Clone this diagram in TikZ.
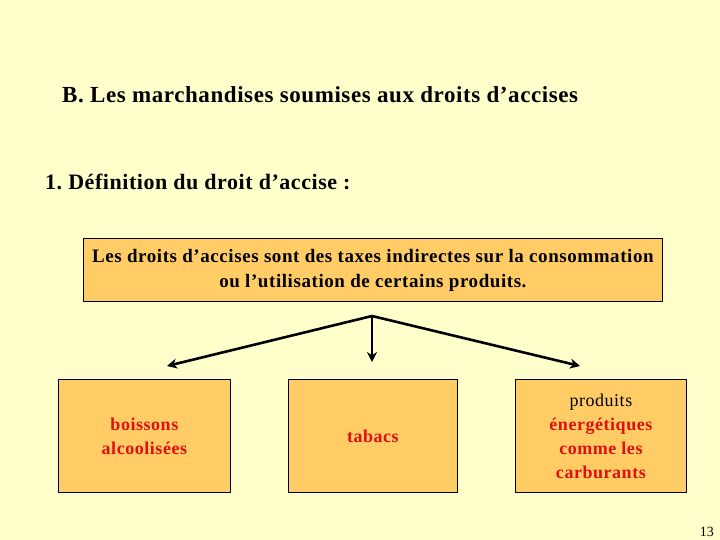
\documentclass[tikz,border=0pt]{standalone}
\usepackage{fontspec}
\setmainfont{Liberation Serif}
\newfontfamily\spA[LetterSpace=2.5]{Liberation Serif}
\newfontfamily\spB[LetterSpace=3]{Liberation Serif}
\usetikzlibrary{arrows.meta}
\definecolor{bg}{HTML}{FFFFCC}
\definecolor{boxfill}{HTML}{FFCC66}
\definecolor{redtxt}{HTML}{E01010}
\frenchspacing
\begin{document}
\begin{tikzpicture}[x=1pt,y=-1pt,
  box/.style={draw=black,line width=0.8pt,fill=boxfill,inner sep=0pt,anchor=north west},
  lbl/.style={font=\spB\bfseries\fontsize{18}{24}\selectfont,text=redtxt,align=center},
  head/.style={anchor=base west,font=\spA\bfseries\fontsize{23}{26}\selectfont,inner sep=0pt},
  arr/.style={line width=2.6pt,-{Stealth[length=10pt,width=10pt]}}]
\fill[bg] (0,0) rectangle (720,540);
\useasboundingbox (0,0) rectangle (720,540);
\node[head] (title) at (62,103) {B. Les marchandises soumises aux droits d’accises};
\node[head,font=\spA\bfseries\fontsize{22}{26}\selectfont] (sub) at (45,190) {1. Définition du droit d’accise :};
\node[box,minimum width=579pt,minimum height=63pt] (top) at (83,238) {};
\node[font=\spB\bfseries\fontsize{19}{25}\selectfont,align=center] (toptxt) at ([yshift=-1pt]top.center) {Les droits d’accises sont des taxes indirectes sur la consommation\\ou l’utilisation de certains produits.};
\node[box,minimum width=172pt,minimum height=113pt] (b1) at (58,379) {};
\node[box,minimum width=169pt,minimum height=113pt] (b2) at (288,379) {};
\node[box,minimum width=171pt,minimum height=113pt] (b3) at (515,379) {};
\node[lbl] (t1) at (b1.center) {boissons\\alcoolisées};
\node[lbl] (t2) at (b2.center) {tabacs};
\node[lbl] (t3) at (b3.center) {\mdseries\color{black}produits\\énergétiques\\comme les\\carburants};
\coordinate (j) at (372,316);
\coordinate (e1) at (167,366);
\coordinate (e2) at (372,362);
\coordinate (e3) at (580,366);
\draw[arr] (j) -- (e1);
\draw[arr] (j) -- (e2);
\draw[arr] (j) -- (e3);
\node[font=\fontsize{14}{16}\selectfont,anchor=base east,inner sep=0pt] (pg) at (714,536) {13};
\end{tikzpicture}
\end{document}
